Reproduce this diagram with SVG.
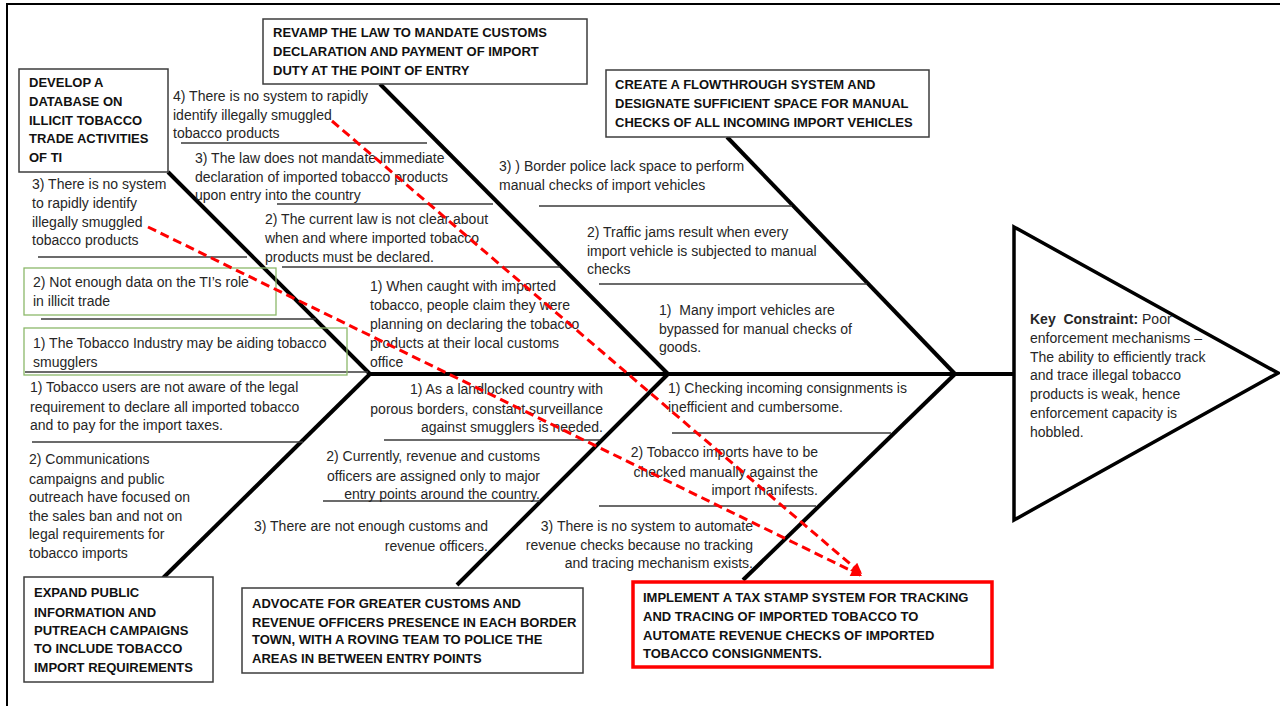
<svg xmlns="http://www.w3.org/2000/svg" width="1280" height="706" viewBox="0 0 1280 706">
  <style>
    .frame { stroke: #000; stroke-width: 2; fill: none; }
    .bone { stroke: #000; stroke-width: 4; fill: none; }
    .rule { stroke: #3a3a3a; stroke-width: 1.3; fill: none; }
    .box { fill: #fff; stroke: #3c3c3c; stroke-width: 1.5; }
    .gbox { fill: none; stroke: #8cb86a; stroke-width: 1.3; }
    .rbox { fill: #fff; stroke: #f00; stroke-width: 3.5; }
    .head { fill: #fff; stroke: #000; stroke-width: 3.5; stroke-linejoin: miter; }
    .title { font-family: "Liberation Sans", Arial, sans-serif; font-size: 13px; font-weight: bold; fill: #111; }
    .body { font-family: "Liberation Sans", Arial, sans-serif; font-size: 14px; fill: #262626; }
    .end { text-anchor: end; }
    .link { stroke: #f00; stroke-width: 3; stroke-dasharray: 9 5; fill: none; }
  </style>
  <defs>
    <marker id="arrow" viewBox="0 0 10 10" refX="10" refY="5" markerWidth="13" markerHeight="11" markerUnits="userSpaceOnUse" orient="auto">
      <path d="M0,0 L10,5 L0,10 z" fill="#f00"/>
    </marker>
  </defs>

  <rect width="1280" height="706" fill="#fff"/>
  <!-- page frame -->
  <path class="frame" d="M7,706 V4 H1280"/>

  <!-- fish head: key constraint -->
  <g id="key-constraint">
    <polygon class="head" points="1014,227 1278,373 1014,520"/>
    <text class="body" x="1030" y="324" xml:space="preserve"><tspan font-weight="bold">Key  Constraint:</tspan> Poor</text>
    <text class="body" x="1030" y="343">enforcement mechanisms –</text>
    <text class="body" x="1030" y="362">The ability to efficiently track</text>
    <text class="body" x="1030" y="380">and trace illegal tobacco</text>
    <text class="body" x="1030" y="399">products is weak, hence</text>
    <text class="body" x="1030" y="418">enforcement capacity is</text>
    <text class="body" x="1030" y="437">hobbled.</text>
  </g>

  <!-- bone branches and spine -->
  <g id="connectors">
    <line class="bone" x1="370" y1="374" x2="1014" y2="374"/>
    <line class="bone" x1="168" y1="172" x2="370" y2="374"/>
    <line class="bone" x1="380" y1="84" x2="668" y2="374"/>
    <line class="bone" x1="727" y1="137" x2="955" y2="374"/>
    <line class="bone" x1="370" y1="374" x2="163" y2="578"/>
    <line class="bone" x1="668" y1="374" x2="457" y2="585"/>
    <line class="bone" x1="955" y1="374" x2="743" y2="580"/>

    <!-- sub-cause rules -->
    <line class="rule" x1="181" y1="143" x2="427" y2="143"/>
    <line class="rule" x1="277" y1="204" x2="493" y2="204"/>
    <line class="rule" x1="282" y1="267" x2="560" y2="267"/>
    <line class="rule" x1="38" y1="257" x2="247" y2="257"/>
    <line class="rule" x1="41" y1="319" x2="316" y2="319"/>
    <line class="rule" x1="25" y1="372" x2="368" y2="372"/>
    <line class="rule" x1="539" y1="206" x2="792" y2="206"/>
    <line class="rule" x1="599" y1="284" x2="867" y2="284"/>
    <line class="rule" x1="32" y1="442" x2="303" y2="442"/>
    <line class="rule" x1="384" y1="440" x2="600" y2="440"/>
    <line class="rule" x1="323" y1="501" x2="540" y2="501"/>
    <line class="rule" x1="672" y1="433" x2="891" y2="433"/>
    <line class="rule" x1="599" y1="506" x2="816" y2="506"/>
  </g>

  <!-- solution boxes -->
  <g id="develop-database">
    <rect class="box" x="19" y="69" width="149" height="103"/>
    <text class="title" x="29" y="87">DEVELOP A</text>
    <text class="title" x="29" y="106">DATABASE ON</text>
    <text class="title" x="29" y="125">ILLICIT TOBACCO</text>
    <text class="title" x="29" y="143">TRADE ACTIVITIES</text>
    <text class="title" x="29" y="162">OF TI</text>
  </g>

  <g id="revamp-law">
    <rect class="box" x="263" y="19" width="324" height="65"/>
    <text class="title" x="273" y="37">REVAMP THE LAW TO MANDATE CUSTOMS</text>
    <text class="title" x="273" y="56">DECLARATION AND PAYMENT OF IMPORT</text>
    <text class="title" x="273" y="75">DUTY AT THE POINT OF ENTRY</text>
  </g>

  <g id="flowthrough-system">
    <rect class="box" x="606" y="70" width="323" height="67"/>
    <text class="title" x="615" y="89">CREATE A FLOWTHROUGH SYSTEM AND</text>
    <text class="title" x="615" y="108">DESIGNATE SUFFICIENT SPACE FOR MANUAL</text>
    <text class="title" x="615" y="127">CHECKS OF ALL INCOMING IMPORT VEHICLES</text>
  </g>

  <g id="expand-outreach">
    <rect class="box" x="24" y="577" width="189" height="105"/>
    <text class="title" x="34" y="597">EXPAND PUBLIC</text>
    <text class="title" x="34" y="617">INFORMATION AND</text>
    <text class="title" x="34" y="635">PUTREACH CAMPAIGNS</text>
    <text class="title" x="34" y="653">TO INCLUDE TOBACCO</text>
    <text class="title" x="34" y="672">IMPORT REQUIREMENTS</text>
  </g>

  <g id="advocate-officers">
    <rect class="box" x="242" y="588" width="341" height="85"/>
    <text class="title" x="252" y="608">ADVOCATE FOR GREATER CUSTOMS AND</text>
    <text class="title" x="252" y="627">REVENUE OFFICERS PRESENCE IN EACH BORDER</text>
    <text class="title" x="252" y="644">TOWN, WITH A ROVING TEAM TO POLICE THE</text>
    <text class="title" x="252" y="663">AREAS IN BETWEEN ENTRY POINTS</text>
  </g>

  <g id="tax-stamp">
    <rect class="rbox" x="633" y="582" width="359" height="85"/>
    <text class="title" x="643" y="602">IMPLEMENT A TAX STAMP SYSTEM FOR TRACKING</text>
    <text class="title" x="643" y="621">AND TRACING OF IMPORTED TOBACCO TO</text>
    <text class="title" x="643" y="640">AUTOMATE REVENUE CHECKS OF IMPORTED</text>
    <text class="title" x="643" y="658">TOBACCO CONSIGNMENTS.</text>
  </g>

  <!-- causes: upper-left branch (database) -->
  <g id="cause-no-rapid-id-left">
    <text class="body" x="32" y="189">3) There is no system</text>
    <text class="body" x="32" y="208">to rapidly identify</text>
    <text class="body" x="32" y="227">illegally smuggled</text>
    <text class="body" x="32" y="245">tobacco products</text>
  </g>
  <g id="cause-no-data">
    <rect class="gbox" x="24" y="268" width="252" height="47"/>
    <text class="body" x="33" y="287">2) Not enough data on the TI’s role</text>
    <text class="body" x="33" y="306">in illicit trade</text>
  </g>
  <g id="cause-industry-aiding">
    <rect class="gbox" x="24" y="328" width="323" height="47"/>
    <text class="body" x="33" y="348">1) The Tobacco Industry may be aiding tobacco</text>
    <text class="body" x="33" y="367">smugglers</text>
  </g>

  <!-- causes: upper-middle branch (law) -->
  <g id="cause-no-rapid-id-top">
    <text class="body" x="173" y="101">4) There is no system to rapidly</text>
    <text class="body" x="173" y="120">identify illegally smuggled</text>
    <text class="body" x="173" y="138">tobacco products</text>
  </g>
  <g id="cause-no-mandate">
    <text class="body" x="195" y="163">3) The law does not mandate immediate</text>
    <text class="body" x="195" y="182">declaration of imported tobacco products</text>
    <text class="body" x="195" y="200">upon entry into the country</text>
  </g>
  <g id="cause-unclear-law">
    <text class="body" x="265" y="224">2) The current law is not clear about</text>
    <text class="body" x="265" y="243">when and where imported tobacco</text>
    <text class="body" x="265" y="262">products must be declared.</text>
  </g>
  <g id="cause-claim-declaring">
    <text class="body" x="370" y="291">1) When caught with imported</text>
    <text class="body" x="370" y="310">tobacco, people claim they were</text>
    <text class="body" x="370" y="329">planning on declaring the tobacco</text>
    <text class="body" x="370" y="348">products at their local customs</text>
    <text class="body" x="370" y="367">office</text>
  </g>

  <!-- causes: upper-right branch (flowthrough) -->
  <g id="cause-no-space">
    <text class="body" x="499" y="171" xml:space="preserve">3) ) Border police lack space to perform</text>
    <text class="body" x="499" y="190">manual checks of import vehicles</text>
  </g>
  <g id="cause-traffic-jams">
    <text class="body" x="587" y="237">2) Traffic jams result when every</text>
    <text class="body" x="587" y="256">import vehicle is subjected to manual</text>
    <text class="body" x="587" y="274">checks</text>
  </g>
  <g id="cause-bypassed">
    <text class="body" x="659" y="315" xml:space="preserve">1)  Many import vehicles are</text>
    <text class="body" x="659" y="334">bypassed for manual checks of</text>
    <text class="body" x="659" y="352">goods.</text>
  </g>

  <!-- causes: lower-left branch (outreach) -->
  <g id="cause-users-unaware">
    <text class="body" x="30" y="392">1) Tobacco users are not aware of the legal</text>
    <text class="body" x="30" y="412">requirement to declare all imported tobacco</text>
    <text class="body" x="30" y="430">and to pay for the import taxes.</text>
  </g>
  <g id="cause-campaign-focus">
    <text class="body" x="29" y="464">2) Communications</text>
    <text class="body" x="29" y="484">campaigns and public</text>
    <text class="body" x="29" y="502">outreach have focused on</text>
    <text class="body" x="29" y="521">the sales ban and not on</text>
    <text class="body" x="29" y="539">legal requirements for</text>
    <text class="body" x="29" y="558">tobacco imports</text>
  </g>

  <!-- causes: lower-middle branch (officers) -->
  <g id="cause-porous-borders">
    <text class="body end" x="603" y="394">1) As a landlocked country with</text>
    <text class="body end" x="603" y="414">porous borders, constant surveillance</text>
    <text class="body end" x="603" y="432">against smugglers is needed.</text>
  </g>
  <g id="cause-major-entry-points">
    <text class="body end" x="540" y="461">2) Currently, revenue and customs</text>
    <text class="body end" x="540" y="481">officers are assigned only to major</text>
    <text class="body end" x="540" y="499">entry points around the country.</text>
  </g>
  <g id="cause-few-officers">
    <text class="body end" x="488" y="531">3) There are not enough customs and</text>
    <text class="body end" x="488" y="551">revenue officers.</text>
  </g>

  <!-- causes: lower-right branch (tax stamp) -->
  <g id="cause-inefficient-checks">
    <text class="body" x="668" y="393">1) Checking incoming consignments is</text>
    <text class="body" x="668" y="412">inefficient and cumbersome.</text>
  </g>
  <g id="cause-manual-checks">
    <text class="body end" x="818" y="457">2) Tobacco imports have to be</text>
    <text class="body end" x="818" y="477">checked manually against the</text>
    <text class="body end" x="818" y="495">import manifests.</text>
  </g>
  <g id="cause-no-automation">
    <text class="body end" x="753" y="531">3) There is no system to automate</text>
    <text class="body end" x="753" y="550">revenue checks because no tracking</text>
    <text class="body end" x="753" y="568">and tracing mechanism exists.</text>
  </g>

  <!-- dashed links from the identification causes to the tax stamp solution -->
  <g id="links">
    <line class="link" x1="332" y1="121" x2="862" y2="574" marker-end="url(#arrow)"/>
    <line class="link" x1="148" y1="227" x2="862" y2="576" marker-end="url(#arrow)"/>
  </g>
</svg>
